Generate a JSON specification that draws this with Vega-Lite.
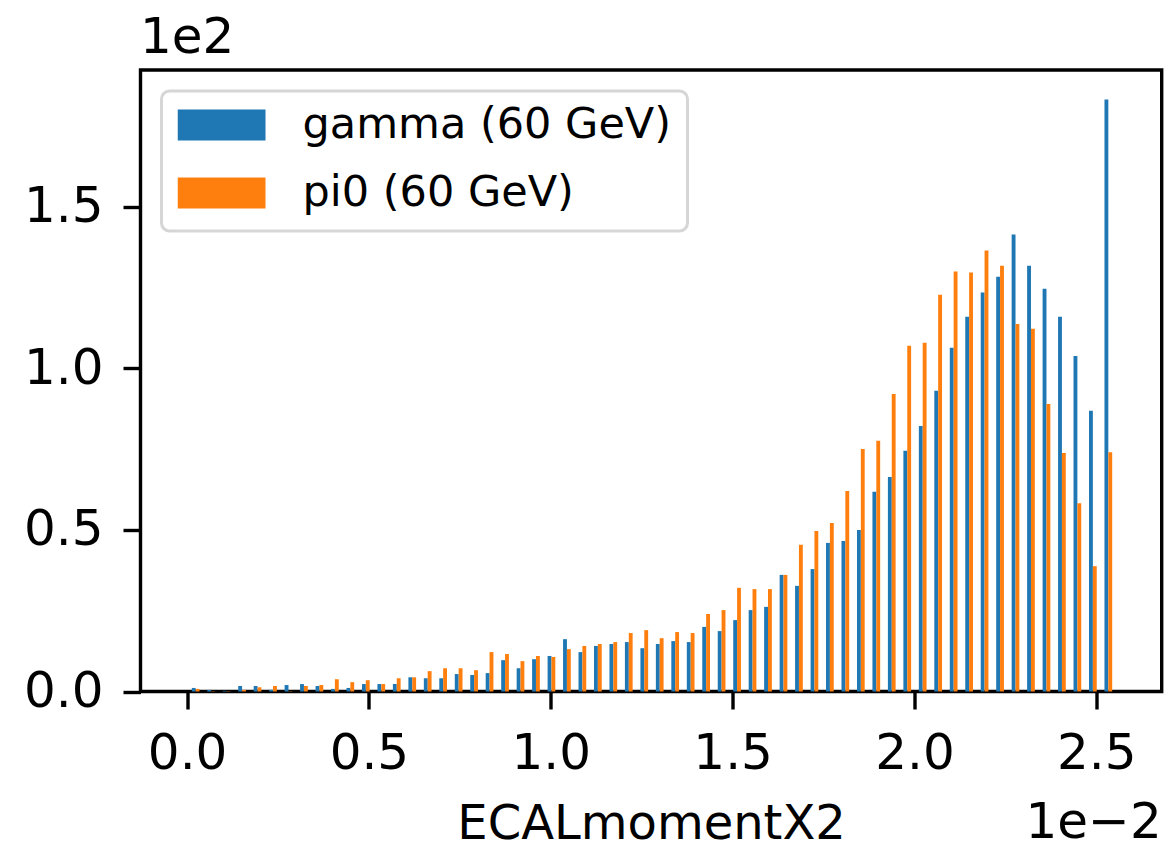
{
  "$schema": "https://vega.github.io/schema/vega-lite/v6.json",
  "width": 1021.2,
  "height": 621.5,
  "autosize": {"type": "none"},
  "padding": {"left": 140.5, "top": 70, "right": 7.3, "bottom": 158.5},
  "background": "white",
  "config": {
    "font": "DejaVu Sans",
    "view": {"stroke": "black", "strokeWidth": 3.4, "fill": "white"}
  },
  "title": {
    "text": "1e−2",
    "orient": "bottom",
    "anchor": "end",
    "frame": "group",
    "fontSize": 50,
    "fontWeight": "normal",
    "font": "DejaVu Sans",
    "color": "black",
    "offset": -51
  },
  "data": {
    "values": [
      {"ECALmomentX2": 0.000236, "gamma": 1.1, "pi0": 0.8},
      {"ECALmomentX2": 0.000661, "gamma": 0.5, "pi0": 0.1},
      {"ECALmomentX2": 0.001086, "gamma": 0.2, "pi0": 0.1},
      {"ECALmomentX2": 0.001512, "gamma": 1.7, "pi0": 0.5},
      {"ECALmomentX2": 0.001937, "gamma": 1.7, "pi0": 1.3},
      {"ECALmomentX2": 0.002363, "gamma": 0.5, "pi0": 1.7},
      {"ECALmomentX2": 0.002788, "gamma": 2.0, "pi0": 0.1},
      {"ECALmomentX2": 0.003213, "gamma": 2.3, "pi0": 1.7},
      {"ECALmomentX2": 0.003639, "gamma": 1.7, "pi0": 2.0},
      {"ECALmomentX2": 0.004064, "gamma": 0.8, "pi0": 3.8},
      {"ECALmomentX2": 0.004489, "gamma": 1.1, "pi0": 2.9},
      {"ECALmomentX2": 0.004915, "gamma": 2.3, "pi0": 3.5},
      {"ECALmomentX2": 0.005340, "gamma": 2.3, "pi0": 2.3},
      {"ECALmomentX2": 0.005765, "gamma": 2.3, "pi0": 4.1},
      {"ECALmomentX2": 0.006191, "gamma": 4.4, "pi0": 4.4},
      {"ECALmomentX2": 0.006616, "gamma": 4.1, "pi0": 6.3},
      {"ECALmomentX2": 0.007041, "gamma": 4.1, "pi0": 7.2},
      {"ECALmomentX2": 0.007467, "gamma": 5.4, "pi0": 7.2},
      {"ECALmomentX2": 0.007892, "gamma": 5.1, "pi0": 6.6},
      {"ECALmomentX2": 0.008317, "gamma": 5.7, "pi0": 12.2},
      {"ECALmomentX2": 0.008743, "gamma": 9.7, "pi0": 11.6},
      {"ECALmomentX2": 0.009168, "gamma": 7.2, "pi0": 9.4},
      {"ECALmomentX2": 0.009593, "gamma": 10.0, "pi0": 11.0},
      {"ECALmomentX2": 0.010019, "gamma": 11.0, "pi0": 10.7},
      {"ECALmomentX2": 0.010444, "gamma": 16.2, "pi0": 13.1},
      {"ECALmomentX2": 0.010869, "gamma": 12.2, "pi0": 14.1},
      {"ECALmomentX2": 0.011295, "gamma": 14.1, "pi0": 14.7},
      {"ECALmomentX2": 0.011720, "gamma": 14.7, "pi0": 15.3},
      {"ECALmomentX2": 0.012145, "gamma": 15.3, "pi0": 18.1},
      {"ECALmomentX2": 0.012571, "gamma": 13.4, "pi0": 19.0},
      {"ECALmomentX2": 0.012996, "gamma": 14.7, "pi0": 16.5},
      {"ECALmomentX2": 0.013421, "gamma": 15.6, "pi0": 18.4},
      {"ECALmomentX2": 0.013847, "gamma": 15.3, "pi0": 18.1},
      {"ECALmomentX2": 0.014272, "gamma": 20.0, "pi0": 24.0},
      {"ECALmomentX2": 0.014697, "gamma": 18.7, "pi0": 25.2},
      {"ECALmomentX2": 0.015123, "gamma": 22.1, "pi0": 32.1},
      {"ECALmomentX2": 0.015548, "gamma": 25.2, "pi0": 31.7},
      {"ECALmomentX2": 0.015973, "gamma": 26.2, "pi0": 31.7},
      {"ECALmomentX2": 0.016399, "gamma": 36.1, "pi0": 36.1},
      {"ECALmomentX2": 0.016824, "gamma": 32.7, "pi0": 45.4},
      {"ECALmomentX2": 0.017250, "gamma": 37.9, "pi0": 49.7},
      {"ECALmomentX2": 0.017675, "gamma": 46.0, "pi0": 52.2},
      {"ECALmomentX2": 0.018100, "gamma": 46.6, "pi0": 62.1},
      {"ECALmomentX2": 0.018526, "gamma": 50.0, "pi0": 75.1},
      {"ECALmomentX2": 0.018951, "gamma": 61.8, "pi0": 77.6},
      {"ECALmomentX2": 0.019376, "gamma": 66.4, "pi0": 92.1},
      {"ECALmomentX2": 0.019802, "gamma": 74.5, "pi0": 107.0},
      {"ECALmomentX2": 0.020227, "gamma": 82.2, "pi0": 108.0},
      {"ECALmomentX2": 0.020652, "gamma": 93.1, "pi0": 122.8},
      {"ECALmomentX2": 0.021078, "gamma": 106.4, "pi0": 130.0},
      {"ECALmomentX2": 0.021503, "gamma": 116.0, "pi0": 129.7},
      {"ECALmomentX2": 0.021928, "gamma": 123.5, "pi0": 136.5},
      {"ECALmomentX2": 0.022354, "gamma": 128.4, "pi0": 131.8},
      {"ECALmomentX2": 0.022779, "gamma": 141.5, "pi0": 113.8},
      {"ECALmomentX2": 0.023204, "gamma": 131.8, "pi0": 112.3},
      {"ECALmomentX2": 0.023630, "gamma": 124.7, "pi0": 89.0},
      {"ECALmomentX2": 0.024055, "gamma": 116.0, "pi0": 73.8},
      {"ECALmomentX2": 0.024480, "gamma": 103.9, "pi0": 58.3},
      {"ECALmomentX2": 0.024906, "gamma": 86.9, "pi0": 38.8},
      {"ECALmomentX2": 0.025331, "gamma": 183.3, "pi0": 74.1}
    ]
  },
  "encoding": {
    "x": {
      "field": "ECALmomentX2",
      "type": "quantitative",
      "scale": {"domain": [-0.0011435, 0.026661], "nice": false, "zero": false},
      "axis": {
        "values": [0, 0.005, 0.01, 0.015, 0.02, 0.025],
        "labelExpr": "format(datum.value * 100, '.1f')",
        "labelFontSize": 50,
        "labelColor": "black",
        "labelPadding": 19,
        "labelFlush": false,
        "labelOverlap": false,
        "tickSize": 17.5,
        "tickWidth": 3.4,
        "tickColor": "black",
        "domain": false,
        "grid": false,
        "title": "ECALmomentX2",
        "titleFontSize": 48,
        "titleFontWeight": "normal",
        "titleColor": "black",
        "titleBaseline": "alphabetic",
        "titleY": 147
      }
    }
  },
  "layer": [
    {
      "mark": {"type": "bar", "orient": "vertical", "width": 3.86, "xOffset": -1.93},
      "encoding": {
        "y": {
          "field": "gamma",
          "type": "quantitative",
          "scale": {"domain": [0, 192.4], "nice": false},
          "axis": {
            "values": [0, 50, 100, 150],
            "labelExpr": "format(datum.value / 100, '.1f')",
            "labelFontSize": 50,
            "labelColor": "black",
            "labelPadding": 20,
            "labelFlush": false,
            "labelOverlap": false,
            "tickSize": 17.5,
            "tickWidth": 3.4,
            "tickColor": "black",
            "domain": false,
            "grid": false,
            "title": "1e2",
            "titleAngle": 0,
            "titleAlign": "left",
            "titleBaseline": "alphabetic",
            "titleFontSize": 50,
            "titleFontWeight": "normal",
            "titleColor": "black",
            "titleX": -1,
            "titleY": -18
          }
        },
        "color": {
          "datum": "gamma (60 GeV)",
          "type": "nominal",
          "scale": {"domain": ["gamma (60 GeV)", "pi0 (60 GeV)"], "range": ["#1f77b4", "#ff7f0e"]},
          "legend": {
            "title": null,
            "orient": "top-left",
            "offset": 21,
            "fillColor": "white",
            "strokeColor": "#d6d6d6",
            "cornerRadius": 8,
            "padding": 16,
            "labelFontSize": 43,
            "labelColor": "black",
            "labelOffset": 37,
            "labelLimit": 600,
            "symbolType": "M-1,-0.352H1V0.352H-1Z",
            "symbolSize": 7744,
            "symbolStrokeWidth": 0,
            "symbolOpacity": 1,
            "clipHeight": 36,
            "rowPadding": 25,
            "encode": {"legend": {"update": {"strokeWidth": {"value": 3}}}}
          }
        }
      }
    },
    {
      "mark": {"type": "bar", "orient": "vertical", "width": 3.86, "xOffset": 1.93},
      "encoding": {
        "y": {"field": "pi0", "type": "quantitative"},
        "color": {"datum": "pi0 (60 GeV)", "type": "nominal"}
      }
    }
  ]
}
